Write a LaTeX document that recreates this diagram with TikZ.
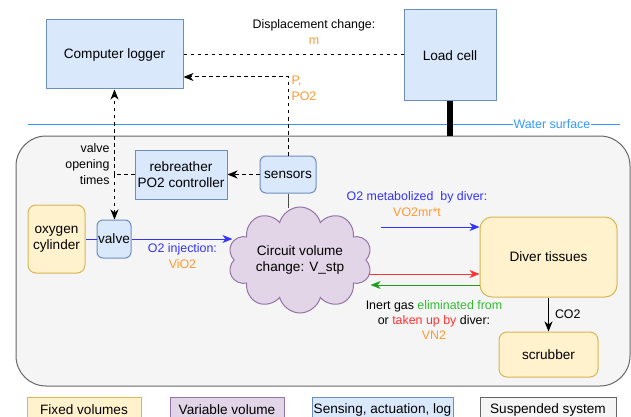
\documentclass[tikz,border=0pt]{standalone}
\usepackage{fontspec}
\setmainfont{Liberation Sans}
\usetikzlibrary{arrows.meta,shapes.symbols,calc}

\definecolor{bluefill}{HTML}{DAE8FC}
\definecolor{bluedraw}{HTML}{6C8EBF}
\definecolor{yellowfill}{HTML}{FFF2CC}
\definecolor{yellowdraw}{HTML}{D6B656}
\definecolor{purplefill}{HTML}{E1D5E7}
\definecolor{purpledraw}{HTML}{9673A6}
\definecolor{grayfill}{HTML}{F5F5F5}
\definecolor{graydraw}{HTML}{666666}
\definecolor{orangetxt}{HTML}{FF9933}
\definecolor{bluetxt}{HTML}{3333FF}
\definecolor{greentxt}{HTML}{33BB33}
\definecolor{greenline}{HTML}{1A9F1A}
\definecolor{redtxt}{HTML}{FF3333}
\definecolor{water}{HTML}{3399FF}

\newcommand{\boxfont}{\fontsize{13.6}{16}\selectfont}
\newcommand{\labfont}{\fontsize{12.4}{16}\selectfont}

\begin{document}
\begin{tikzpicture}[x=1pt,y=-1pt,inner sep=0pt,line width=1pt,
  sensbox/.style={draw=bluedraw,fill=bluefill,align=center,font=\boxfont},
  fixbox/.style={draw=yellowdraw,fill=yellowfill,align=center,font=\boxfont,rounded corners=8pt},
  varbox/.style={draw=purpledraw,fill=purplefill,align=center,font=\boxfont},
  suspbox/.style={draw=graydraw,fill=grayfill,align=center,font=\boxfont},
  lab/.style={font=\labfont,align=center},
  arr/.style={-{Stealth[length=10pt,width=8pt,inset=3pt]}},
  sig/.style={dash pattern=on 3.5pt off 3.5pt}]
\useasboundingbox (0,0) rectangle (631,417);
\clip (0,0) rectangle (631,417);

% układ zawieszony pod wodą
\node[suspbox,rounded corners=30pt,minimum width=614,minimum height=250] (susp) at (323,261) {};

\node[sensbox,minimum width=137,minimum height=69] (logger) at (114.5,54.5) {Computer logger};
\node[sensbox,minimum width=92,minimum height=91] (load) at (450,55.5) {Load cell};
\node[sensbox,minimum width=92,minimum height=49] (ctrl) at (181,174.5) {rebreather\\PO2 controller};
\node[sensbox,rounded corners=6pt,minimum width=56,minimum height=37] (sensors) at (288,174.5) {sensors};
\node[fixbox,minimum width=57,minimum height=68] (cyl) at (56.5,239) {oxygen\\cylinder};
\node[sensbox,rounded corners=6pt,minimum width=34,minimum height=38] (valve) at (114,239) {valve};
\node[varbox,cloud,cloud puffs=10,cloud ignores aspect,minimum width=144,minimum height=106] (cloud) at (300,260) {Circuit volume\\change: V\_stp};
\node[fixbox,rounded corners=12pt,minimum width=137,minimum height=80] (diver) at (548.5,257) {Diver tissues};
\node[fixbox,minimum width=99,minimum height=45] (scrub) at (548.5,354.5) {scrubber};

% powierzchnia wody i zawieszenie
\coordinate (wsL) at (28,124);
\coordinate (wsR) at (620,124);
\draw[water] (wsL) -- (wsR) node[pos=0.885,fill=white,inner xsep=1pt,inner ysep=2pt,text=water,font=\labfont] (wslab) {Water surface};
\draw[line width=6pt] (load.south) -- (load.south |- susp.north);

% sygnały
\draw[sig] (logger.east) -- (logger.east -| load.west);
\node[lab] (displab) at (314,32) {Displacement change:\\\textcolor{orangetxt}{m}};

\coordinate (pIn) at ([yshift=-22.5pt]logger.east);
\draw[sig,arr] (sensors.north) |- (pIn);
\node[lab,anchor=north west,align=left,text=orangetxt] (plab) at (291,75) {P,\\PO2};

\draw[sig,arr] (sensors.west) -- (ctrl.east);
\coordinate (vJ) at (logger.south |- ctrl.west);
\draw[sig] (ctrl.west) -- (vJ);
\draw[sig,arr] (vJ) -- (logger.south);
\draw[sig,arr] (vJ) -- (vJ |- valve.north);
\node[lab,anchor=east,align=right] (vlab) at (110,164) {valve\\opening\\times};

% przepływy gazu
\draw[black!70] (sensors.south) -- ([yshift=-2pt]sensors.south |- cloud.north);
\draw[bluetxt] (cyl.east) -- (valve.west);
\draw[bluetxt,arr,shorten >=1pt] (valve.east) -- (valve.east -| cloud.west)
  node[lab,midway,below=4pt] (injlab) {\textcolor{bluetxt}{O2 injection:}\\\textcolor{orangetxt}{ViO2}};

\coordinate (o2in) at ([yshift=30pt]diver.west);
\draw[bluetxt,arr,shorten <=14pt] (o2in -| cloud.east) -- (o2in);
\node[lab] (o2lab) at (417,204) {\textcolor{bluetxt}{O2 metabolized \ by diver:}\\\textcolor{orangetxt}{VO2mr*t}};

\coordinate (n2in) at ([yshift=-17pt]diver.west);
\coordinate (n2out) at ([yshift=-28pt]diver.west);
\draw[redtxt,arr,shorten <=2pt] (n2in -| cloud.east) -- (n2in);
\draw[greenline,arr,shorten >=4pt] (n2out) -- (n2out -| cloud.east);
\node[lab,font=\fontsize{12.4}{15}\selectfont] (n2lab) at (434,320) {Inert gas \textcolor{greentxt}{eliminated from}\\or \textcolor{redtxt}{taken up by} diver:\\\textcolor{orangetxt}{VN2}};

\draw[arr] (diver.south) -- (scrub.north) node[lab,midway,right=6pt] (co2lab) {CO2};

% legenda
\node[fixbox,sharp corners,minimum width=114,minimum height=25] (legfix) at (84,409.5) {Fixed volumes};
\node[varbox,minimum width=114,minimum height=25] (legvar) at (227,409.5) {Variable volume};
\node[sensbox,minimum width=141,minimum height=25] (legsens) at (382.5,409.5) {Sensing, actuation, log};
\node[suspbox,minimum width=136,minimum height=25] (legsusp) at (548,409.5) {Suspended system};
\end{tikzpicture}
\end{document}
